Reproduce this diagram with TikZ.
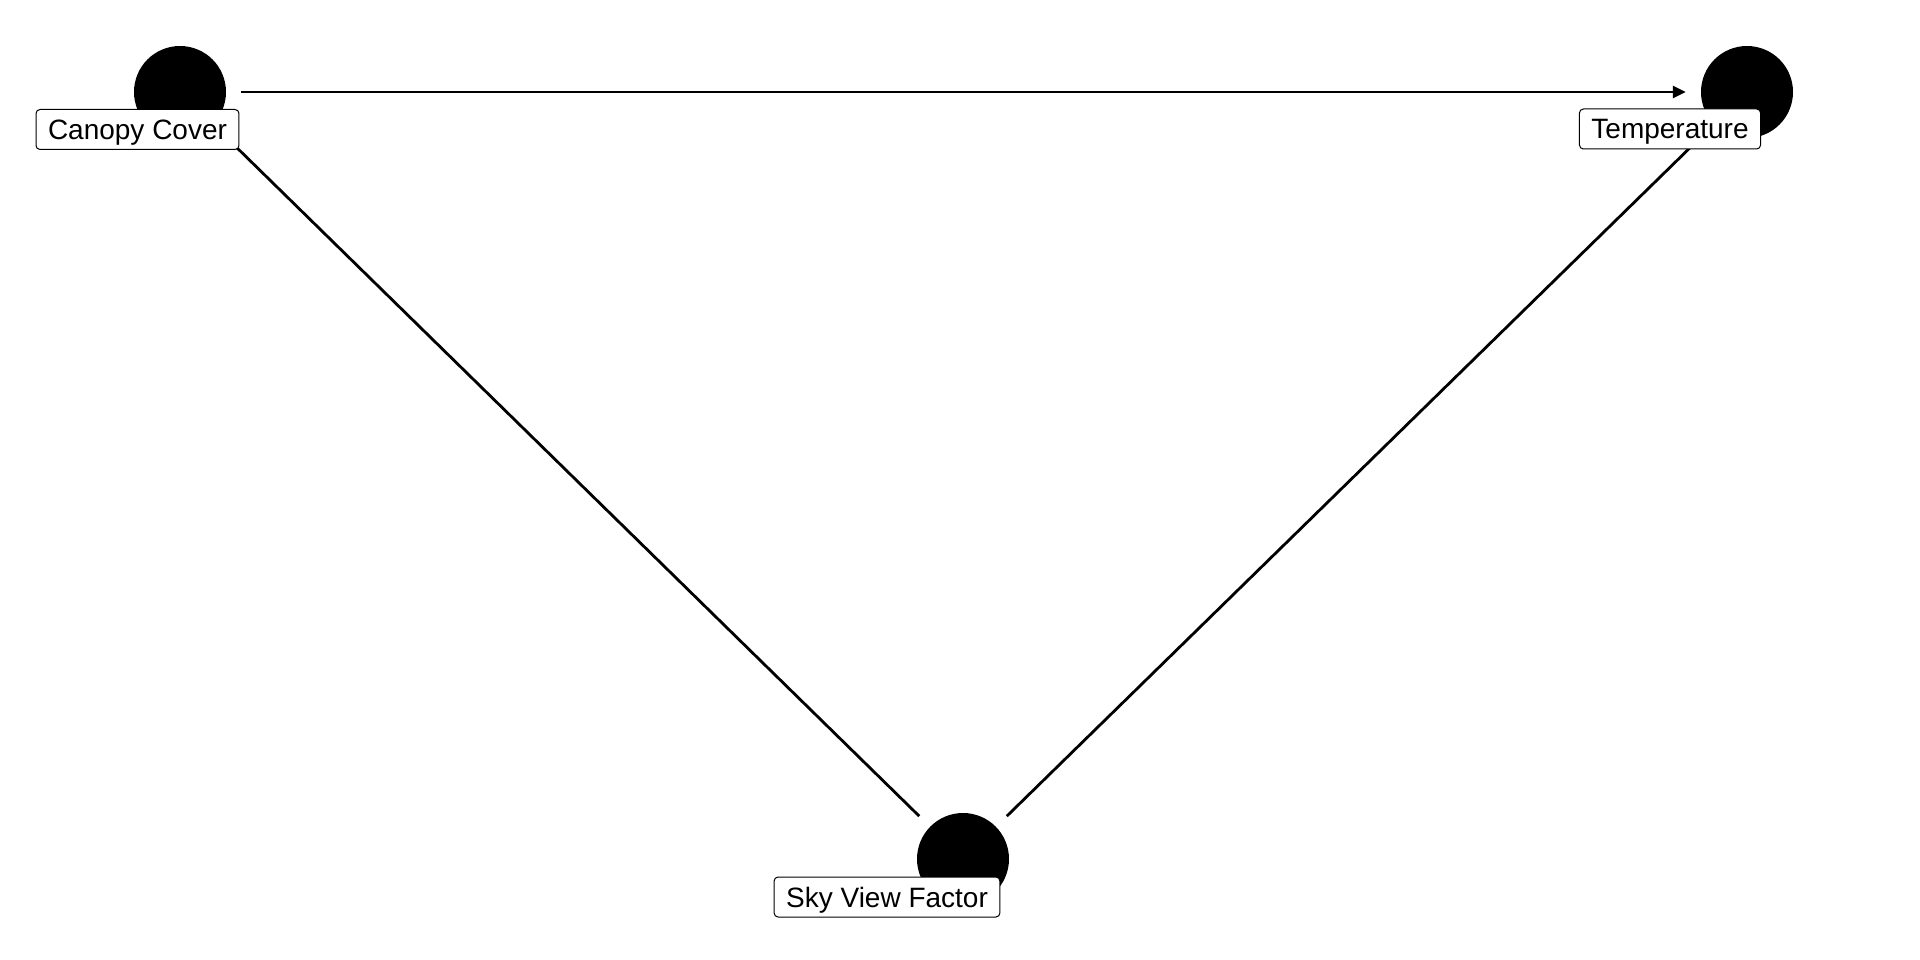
\documentclass[tikz,border=0pt]{standalone}
\usepackage{fontspec}
\setmainfont{Liberation Sans}
\usetikzlibrary{arrows.meta}
\begin{document}
\begin{tikzpicture}[x=1pt,y=-1pt,
  dotstyle/.style={circle,fill=black,minimum size=92,inner sep=0},
  labstyle/.style={draw,fill=white,rounded corners=4,line width=1,inner xsep=12,inner ysep=6,
    text height=24,text depth=4,font=\fontsize{28}{34}\selectfont},
  linkstyle/.style={line width=2.8,shorten <=15,shorten >=15}]
\useasboundingbox (0,0) rectangle (1920,960);

% variables
\node[dotstyle] (canopy) at (180,92) {};
\node[dotstyle] (temp) at (1747,92) {};
\node[dotstyle] (svf) at (963,859) {};

% links
\draw[linkstyle] (canopy) edge[-{Triangle[length=13,width=12]}] (temp);
\draw[linkstyle] (canopy) edge (svf);
\draw[linkstyle] (temp) edge (svf);

% labels
\node[labstyle] (canopylab) at (137.5,129.5) {Canopy Cover};
\node[labstyle] (templab) at (1670,129) {Temperature};
\node[labstyle] (svflab) at (887,897) {Sky View Factor};

\end{tikzpicture}
\end{document}
